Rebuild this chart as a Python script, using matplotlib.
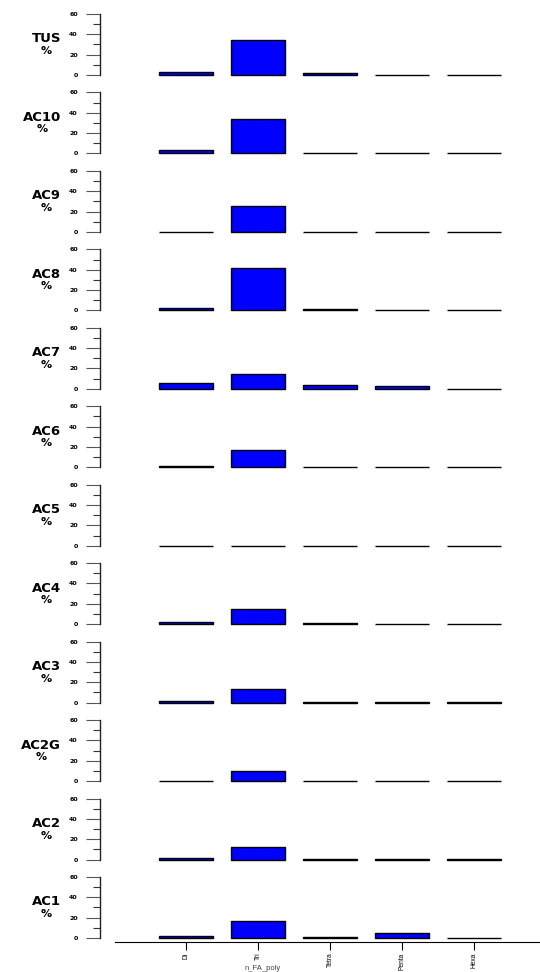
import matplotlib
matplotlib.use("Agg")
import matplotlib.pyplot as plt
import numpy as np

plt.rcParams["font.family"] = ["Liberation Sans", "DejaVu Sans"]

categories = ["Di", "Tri", "Tetra", "Penta", "Hexa"]
samples = ["TUS", "AC10", "AC9", "AC8", "AC7", "AC6", "AC5", "AC4", "AC3", "AC2G", "AC2", "AC1"]

TUS  = [3.0, 34.0, 1.5, 0.1, 0.2]
AC10 = [3.5, 34.0, 0.4, 0.6, 0.1]
AC9  = [0.1, 25.0, 0.1, 0.1, 0.1]
AC8  = [2.5, 41.5, 1.5, 0.2, 0.1]
AC7  = [6.0, 15.0, 4.0, 2.5, 0.1]
AC6  = [1.5, 16.5, 0.2, 0.4, 0.1]
AC5  = [0.1, 0.1, 0.1, 0.1, 0.1]
AC4  = [2.0, 15.0, 1.0, 0.2, 0.5]
AC3  = [1.2, 13.3, 0.5, 0.1, 0.3]
AC2G = [0.1, 9.5, 0.1, 0.1, 0.1]
AC2  = [1.5, 12.0, 0.8, 0.1, 0.5]
AC1  = [1.5, 16.5, 0.5, 4.5, 0.2]
values = [TUS, AC10, AC9, AC8, AC7, AC6, AC5, AC4, AC3, AC2G, AC2, AC1]

W, H = 540, 972
fig = plt.figure(figsize=(W / 100, H / 100), dpi=100)
renderer = fig.canvas.get_renderer()

x = np.arange(len(categories))
pitch = 78.45
for i, (name, vals) in enumerate(zip(samples, values)):
    base = 75 + pitch * i
    ax = fig.add_axes([100 / W, 1 - base / H, 440 / W, 61 / H])
    ax.bar(x, vals, width=0.75, color="#0000ff", edgecolor="black",
           linewidth=1.0, clip_on=False)
    ax.set_xlim(-1.2, -1.2 + 440 / 72)
    ax.set_ylim(0, 60)
    ax.set_yticks([0, 20, 40, 60])
    ax.set_yticks([10, 30, 50], minor=True)
    ax.tick_params(axis="y", which="major", length=10, width=0.8, color="#555555",
                   labelsize=4.5, pad=6)
    ax.tick_params(axis="y", which="minor", length=5, width=0.8, color="#333333")
    for lab in ax.get_yticklabels():
        lab.set_fontweight("bold")
        lab.set_family(["DejaVu Sans"])
    for s in ["top", "right", "bottom"]:
        ax.spines[s].set_visible(False)
    ax.spines["left"].set_linewidth(1.0)
    ax.spines["left"].set_color("#222222")
    ax.patch.set_alpha(0)

    # row label: name with "%" centred underneath
    t = fig.text(61 / W, 1 - (base - 36) / H, name, ha="right", va="center",
                 fontsize=9.5, fontweight="bold", family=["DejaVu Sans"])
    bb = t.get_window_extent(renderer)
    xc = (bb.x0 + bb.x1) / 2 / W
    fig.text(xc, 1 - (base - 24) / H, "%", ha="center", va="center",
             fontsize=8, fontweight="bold", family=["DejaVu Sans"])

    if i == len(samples) - 1:
        ax.spines["bottom"].set_visible(True)
        ax.spines["bottom"].set_position(("outward", 3))
        ax.spines["bottom"].set_bounds(-0.99, 4.95)
        ax.spines["bottom"].set_linewidth(0.8)
        ax.set_xticks(x)
        ax.set_xticklabels(categories, rotation=90, fontsize=4.8)
        ax.tick_params(axis="x", length=6, width=0.8, pad=1.5)
    else:
        ax.set_xticks([])

fig.text(263 / W, 1 - 968 / H, "n_FA_poly", ha="center", va="center",
         fontsize=5.5, color="#444444")

fig.savefig("out.png", dpi=100)
